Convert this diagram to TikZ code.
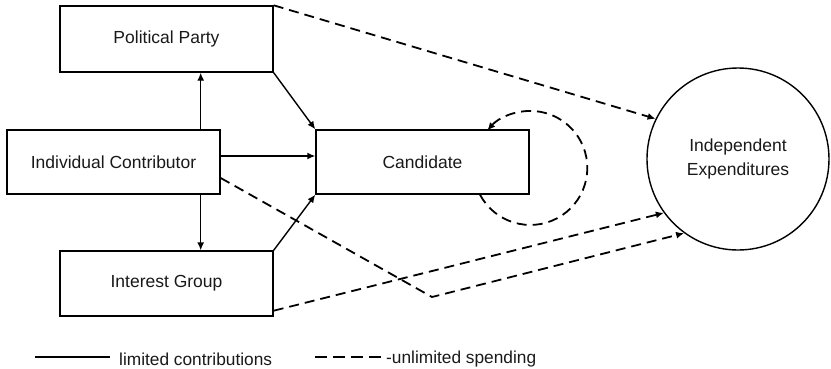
\documentclass[tikz,border=0pt]{standalone}
\usepackage{fontspec}
\setmainfont{Liberation Sans}
\usetikzlibrary{arrows.meta,calc}
\begin{document}
\begin{tikzpicture}[x=1pt,y=-1pt,
  box/.style={draw=black,line width=1.4pt,rectangle,minimum width=213pt,inner sep=0pt,font=\fontsize{17.5}{20}\selectfont,text=black!90},
  solidarr/.style={line width=1.4pt,-{Latex[length=8pt,width=7pt]}},
  dasharr/.style={line width=1.8pt,dash pattern=on 10pt off 6pt,-{Latex[length=8pt,width=7pt]}},
  legtext/.style={font=\fontsize{17.3}{20}\selectfont,text=black!90,inner sep=0pt,anchor=west}]
\useasboundingbox (0,0) rectangle (831,368);
\node[box,minimum height=66pt] (pp) at (166.5,39) {Political Party};
\node[box,minimum height=64pt] (ic) at (113.5,162) {Individual Contributor};
\node[box,minimum height=65pt] (ig) at (166.5,283.5) {Interest Group};
\node[box,minimum height=64pt] (cand) at (422.5,162) {Candidate};
\node[draw=black,line width=1.4pt,circle,minimum size=182pt,inner sep=0pt,align=center,
  font=\fontsize{17.5}{24}\selectfont,text=black!90] (ie) at (738,159) {Independent\\Expenditures};
% limited contributions
\draw[solidarr] ([xshift=-20pt]ic.north east) -- ([xshift=-20pt]ic.north east |- pp.south);
\draw[solidarr] ([xshift=-20pt]ic.south east) -- ([xshift=-20pt]ic.south east |- ig.north);
\draw[solidarr] (pp.south east) -- (cand.north west);
\draw[solidarr] ([yshift=6pt]ic.east) -- ([yshift=6pt]ic.east -| cand.west);
\draw[solidarr] (ig.north east) -- (cand.south west);
% unlimited spending
\draw[dasharr] (pp.north east) -- (ie.154);
\coordinate (bend) at (432,297);
\draw[dasharr] ([yshift=-16pt]ic.east) -- (bend) -- (ie.234);
\draw[dasharr] ([yshift=6pt]ig.south east) -- (ie.216);
\draw[dasharr] ([xshift=57.5pt]cand.south) arc[start angle=208,end angle=499,radius=57pt];
% legend
\coordinate (l1a) at (35,357);
\coordinate (l1b) at (110,357);
\draw[line width=1.3pt] (l1a) -- (l1b);
\node[legtext] (l1t) at (119,359) {limited contributions};
\coordinate (l2a) at (315,357);
\coordinate (l2b) at (382,357);
\draw[line width=1.8pt,dash pattern=on 12pt off 6pt] (l2a) -- (l2b);
\node[legtext] (l2t) at (386,359) {-unlimited spending};
\end{tikzpicture}
\end{document}
